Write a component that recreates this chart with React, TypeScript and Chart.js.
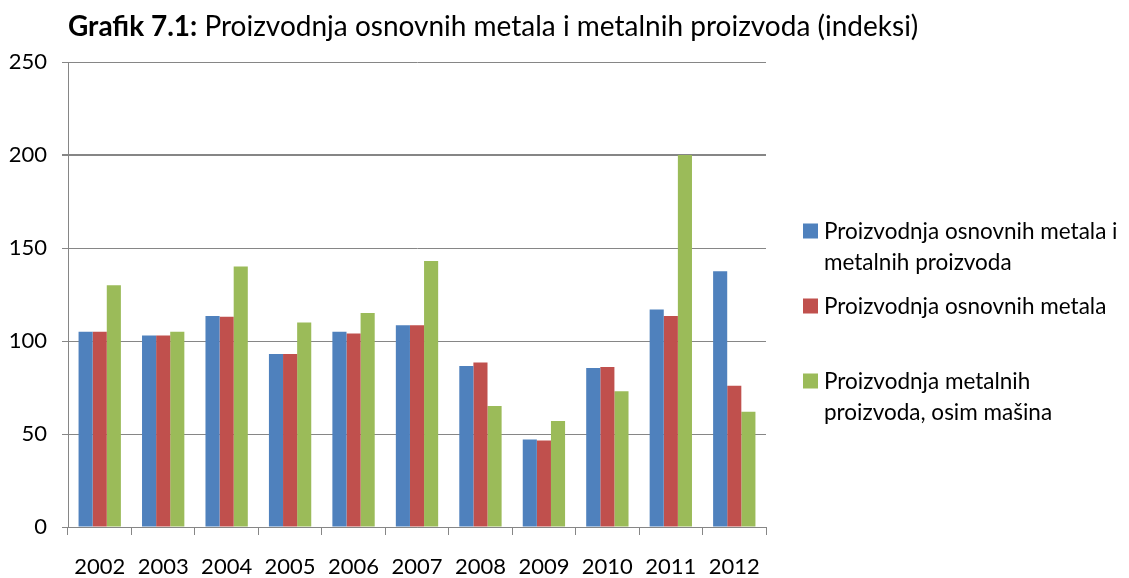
import React, { useEffect, useRef } from "react";
import { Chart, registerables } from "chart.js";

Chart.register(...registerables);

const years = ["2002", "2003", "2004", "2005", "2006", "2007", "2008", "2009", "2010", "2011", "2012"];
const metalsAndProducts = [105, 103, 113.5, 93, 105, 108.5, 86.5, 47, 85.5, 117, 137.5];
const basicMetals = [105, 103, 113, 93, 104, 108.5, 88.5, 46.5, 86, 113.5, 76];
const metalProducts = [130, 105, 140, 110, 115, 143, 65, 57, 73, 200, 62];
const seriesNames = [
  "Proizvodnja osnovnih metala i metalnih proizvoda",
  "Proizvodnja osnovnih metala",
  "Proizvodnja metalnih proizvoda, osim mašina",
];
const legendLines = [
  ["Proizvodnja osnovnih metala i", "metalnih proizvoda"],
  ["Proizvodnja osnovnih metala"],
  ["Proizvodnja metalnih", "proizvoda, osim mašina"],
];
const seriesColors = ["#4F81BD", "#C0504D", "#9BBB59"];
const yMin = 0;
const yMax = 250;
const yStep = 50;
const titleBold = "Grafik 7.1:";
const titleRest = " Proizvodnja osnovnih metala i metalnih proizvoda (indeksi)";

const FONT = "Lato, 'Noto Sans', sans-serif";
const GRID = "#868686";

const titleLegendPlugin = {
  id: "titleLegend",
  afterDraw(chart: any) {
    const ctx = chart.ctx;
    ctx.save();
    ctx.fillStyle = "#000";
    ctx.textBaseline = "alphabetic";
    ctx.textAlign = "left";
    ctx.font = `bold 28px ${FONT}`;
    const tx = 68;
    const ty = 36;
    ctx.fillText(titleBold, tx, ty);
    const w = ctx.measureText(titleBold).width;
    ctx.font = `28px ${FONT}`;
    ctx.fillText(titleRest, tx + w, ty);

    // legend
    const boxX = 803;
    const boxSize = 15;
    const textX = 824;
    const firstY = 231;
    const slot = 75;
    const lineH = 31;
    ctx.font = `22.5px ${FONT}`;
    ctx.textBaseline = "middle";
    legendLines.forEach((lines, i) => {
      const cy = firstY + i * slot;
      ctx.fillStyle = seriesColors[i];
      ctx.fillRect(boxX, cy - boxSize / 2, boxSize, boxSize);
      ctx.fillStyle = "#000";
      lines.forEach((ln, j) => {
        ctx.fillText(ln, textX, cy + j * lineH + 1);
      });
    });
    ctx.restore();
  },
};

export default function App() {
  const canvasRef = useRef<HTMLCanvasElement | null>(null);

  useEffect(() => {
    if (!canvasRef.current) return;
    const seriesData = [metalsAndProducts, basicMetals, metalProducts];
    const chart = new Chart(canvasRef.current, {
      type: "bar",
      data: {
        labels: years,
        datasets: seriesData.map((d, i) => ({
          label: seriesNames[i],
          data: d,
          backgroundColor: seriesColors[i],
          borderWidth: 0,
          barPercentage: 1,
          categoryPercentage: 0.667,
        })),
      },
      options: {
        responsive: false,
        animation: false,
        layout: { padding: { left: 0, right: 363, top: 62, bottom: 0 } },
        plugins: {
          legend: { display: false },
          title: { display: false },
          tooltip: { enabled: false },
        },
        scales: {
          x: {
            grid: {
              drawOnChartArea: false,
              drawTicks: true,
              tickLength: 8,
              color: GRID,
              offset: true,
            },
            border: { color: GRID, width: 1 },
            ticks: {
              font: { family: FONT, size: 22 },
              color: "#000",
              padding: 19,
              maxRotation: 0,
            },
            afterFit: (s: any) => {
              s.height = 51;
            },
          },
          y: {
            min: yMin,
            max: yMax,
            ticks: {
              stepSize: yStep,
              font: { family: FONT, size: 22 },
              color: "#000",
              padding: 15,
            },
            grid: {
              color: GRID,
              lineWidth: (c: any) => (c.tick && c.tick.value === 200 ? 2 : 1),
              tickLength: 6,
              drawTicks: true,
            },
            border: { color: GRID, width: 1 },
            afterFit: (s: any) => {
              s.width = 68;
            },
          },
        },
      },
      plugins: [titleLegendPlugin],
    });
    return () => chart.destroy();
  }, []);

  return (
    <div style={{ position: "fixed", left: 0, top: 0, width: 1129, height: 578, background: "#fff" }}>
      <canvas ref={canvasRef} width={1129} height={578} style={{ display: "block" }} />
    </div>
  );
}
